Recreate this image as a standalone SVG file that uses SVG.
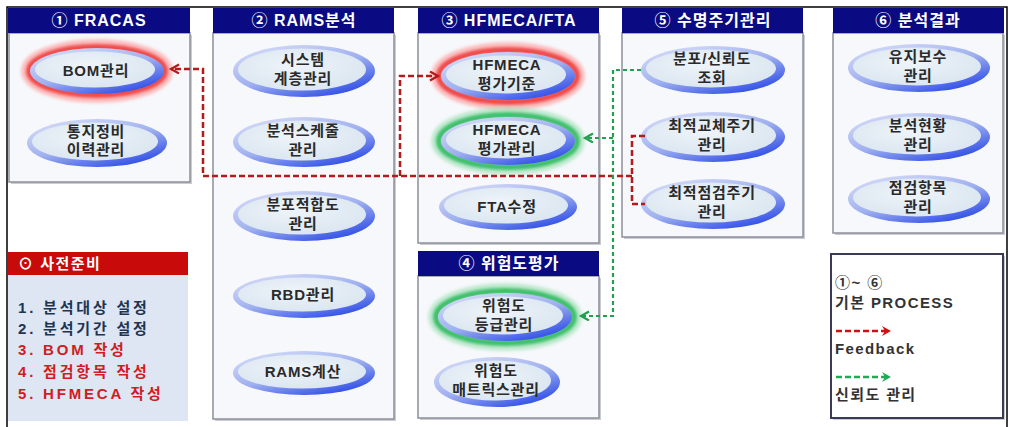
<svg xmlns="http://www.w3.org/2000/svg" width="1009" height="427" viewBox="0 0 1009 427">
<defs>
<linearGradient id="ringG" x1="0.15" y1="0" x2="0.85" y2="1">
<stop offset="0" stop-color="#d6dcf7"/>
<stop offset="0.5" stop-color="#9fb0f0"/>
<stop offset="1" stop-color="#2040e6"/>
</linearGradient>
<radialGradient id="fillG" cx="0.45" cy="0.4" r="0.7">
<stop offset="0" stop-color="#eef4f9"/>
<stop offset="1" stop-color="#d8e4ef"/>
</radialGradient>
<filter id="blur" x="-20%" y="-40%" width="140%" height="180%"><feGaussianBlur stdDeviation="1.4"/></filter>
<marker id="arR" markerUnits="userSpaceOnUse" markerWidth="12" markerHeight="12" refX="9" refY="5" orient="auto"><path d="M1,0.5 L9,5 L1,9.5" fill="none" stroke="#b31b1b" stroke-width="2.2"/></marker>
<marker id="arG" markerUnits="userSpaceOnUse" markerWidth="12" markerHeight="12" refX="9" refY="5" orient="auto"><path d="M1,0.5 L9,5 L1,9.5" fill="none" stroke="#23a04e" stroke-width="2.2"/></marker>
<marker id="lgR" markerUnits="userSpaceOnUse" markerWidth="12" markerHeight="12" refX="8" refY="5" orient="auto"><path d="M0,0 L9,5 L0,10 L3,5 Z" fill="#d01010"/></marker>
<marker id="lgG" markerUnits="userSpaceOnUse" markerWidth="12" markerHeight="12" refX="8" refY="5" orient="auto"><path d="M0,0 L9,5 L0,10 L3,5 Z" fill="#1faa55"/></marker>
</defs>
<style>
text{font-family:"Liberation Sans","Noto Sans CJK KR",sans-serif;font-weight:bold}
.hd{fill:#0a0a82}
.hdt{fill:#ffffff;font-size:16px;letter-spacing:1px;text-anchor:middle}
.body{fill:#f6f8fb;stroke:#8d909b;stroke-width:1.5}
.sh{fill:#c9ccd3}
.ro{fill:url(#ringG)}
.ri{fill:url(#fillG)}
.gR{fill:none;stroke:#f04848;stroke-width:6;filter:url(#blur)}
.gR2{fill:none;stroke:#ff9a9a;stroke-width:12;opacity:0.6;filter:url(#blur)}
.gG{fill:none;stroke:#3cbf6a;stroke-width:6;filter:url(#blur)}
.gG2{fill:none;stroke:#9fe0b4;stroke-width:12;opacity:0.6;filter:url(#blur)}
.lb{fill:#2a2a2a;font-size:15px;letter-spacing:0.8px;text-anchor:middle}
.red{fill:none;stroke:#b31b1b;stroke-width:2.5;stroke-dasharray:6 3}
.grn{fill:none;stroke:#23a04e;stroke-width:2.2;stroke-dasharray:4 3}
.pp{font-size:15px;letter-spacing:2.8px}
.lg{fill:#333333;font-size:15px;letter-spacing:1.4px}
</style>
<rect x="0" y="0" width="1009" height="427" fill="#ffffff"/>
<rect x="7" y="7" width="1000" height="440" fill="none" stroke="#000000" stroke-width="1.5"/>

<g id="box1">
<rect class="sh" x="11" y="35" width="181" height="149"/>
<rect class="body" x="9" y="33" width="181" height="149"/>
<rect class="hd" x="8" y="8" width="182" height="25"/>
<text class="hdt" x="99" y="26">① FRACAS</text>
</g>
<g id="box2">
<rect class="sh" x="215" y="35" width="181" height="386"/>
<rect class="body" x="213" y="33" width="181" height="386"/>
<rect class="hd" x="213" y="8" width="181" height="25"/>
<text class="hdt" x="304" y="26">② RAMS분석</text>
</g>
<g id="box3">
<rect class="sh" x="420" y="35" width="181" height="210"/>
<rect class="body" x="418" y="33" width="181" height="210"/>
<rect class="hd" x="418" y="8" width="181" height="25"/>
<text class="hdt" x="509" y="26">③ HFMECA/FTA</text>
</g>
<g id="box4">
<rect class="sh" x="420" y="278" width="181" height="142"/>
<rect class="body" x="418" y="276" width="181" height="142"/>
<rect class="hd" x="418" y="251" width="181" height="25"/>
<text class="hdt" x="509" y="269">④ 위험도평가</text>
</g>
<g id="box5">
<rect class="sh" x="624" y="35" width="181" height="204"/>
<rect class="body" x="622" y="33" width="181" height="204"/>
<rect class="hd" x="622" y="8" width="181" height="25"/>
<text class="hdt" x="713" y="26">⑤ 수명주기관리</text>
</g>
<g id="box6">
<rect class="sh" x="835" y="35" width="170" height="200"/>
<rect class="body" x="833" y="33" width="170" height="200"/>
<rect class="hd" x="833" y="8" width="171" height="25"/>
<text class="hdt" x="918" y="26">⑥ 분석결과</text>
</g>

<g id="prep">
<rect x="8" y="275" width="180" height="146" fill="#dde6f2"/>
<rect x="8" y="252" width="180" height="23" fill="#c80a0a"/>
<text x="18" y="269" fill="#ffffff" font-size="15px" letter-spacing="1.5px">⊙ 사전준비</text>
<text class="pp" x="18" y="313" fill="#1d3552">1. 분석대상 설정</text>
<text class="pp" x="18" y="334" fill="#1d3552">2. 분석기간 설정</text>
<text class="pp" x="18" y="355" fill="#d01c24">3. BOM 작성</text>
<text class="pp" x="18" y="377" fill="#d01c24">4. 점검항목 작성</text>
<text class="pp" x="18" y="399" fill="#d01c24">5. HFMECA 작성</text>
</g>

<g id="legend">
<rect x="833" y="256" width="172" height="164" fill="#c9ccd3"/>
<rect x="831" y="254" width="172" height="164" fill="#ffffff" stroke="#3a3a55" stroke-width="2"/>
<text class="lg" x="835" y="288" font-size="13px">①~ ⑥</text>
<text class="lg" x="835" y="308">기본 PROCESS</text>
<path d="M836,331 H890" fill="none" stroke="#d01010" stroke-width="2.5" stroke-dasharray="6 3" marker-end="url(#lgR)"/>
<text class="lg" x="835" y="354">Feedback</text>
<path d="M836,377 H890" fill="none" stroke="#1faa55" stroke-width="2.5" stroke-dasharray="6 3" marker-end="url(#lgG)"/>
<text class="lg" x="835" y="400">신뢰도 관리</text>
</g>

<g id="n-bom">
<ellipse class="gR2" cx="97" cy="71" rx="70" ry="26"/>
<ellipse class="gR" cx="97" cy="71" rx="68" ry="24"/>
<ellipse class="ro" cx="97" cy="71" rx="67" ry="23"/>
<ellipse class="ri" cx="95" cy="69.5" rx="60" ry="18"/>
<text class="lb" x="96" y="76">BOM관리</text>
</g>
<g id="n-notice">
<ellipse class="ro" cx="97" cy="143" rx="70" ry="24"/>
<ellipse class="ri" cx="95" cy="141.5" rx="63" ry="19"/>
<text class="lb" x="96" y="137">통지정비</text>
<text class="lb" x="96" y="155">이력관리</text>
</g>
<g id="n-sys">
<ellipse class="ro" cx="304" cy="71" rx="71" ry="26"/>
<ellipse class="ri" cx="302" cy="69.5" rx="64" ry="21"/>
<text class="lb" x="303" y="65">시스템</text>
<text class="lb" x="303" y="84">계층관리</text>
</g>
<g id="n-sched">
<ellipse class="ro" cx="304" cy="142" rx="71" ry="25"/>
<ellipse class="ri" cx="302" cy="140.5" rx="64" ry="20"/>
<text class="lb" x="303" y="136">분석스케줄</text>
<text class="lb" x="303" y="155">관리</text>
</g>
<g id="n-fit">
<ellipse class="ro" cx="304" cy="216" rx="71" ry="25"/>
<ellipse class="ri" cx="302" cy="214.5" rx="64" ry="20"/>
<text class="lb" x="303" y="210">분포적합도</text>
<text class="lb" x="303" y="229">관리</text>
</g>
<g id="n-rbd">
<ellipse class="ro" cx="304" cy="296" rx="71" ry="22"/>
<ellipse class="ri" cx="302" cy="294.5" rx="64" ry="17"/>
<text class="lb" x="303" y="300">RBD관리</text>
</g>
<g id="n-rams">
<ellipse class="ro" cx="304" cy="373" rx="71" ry="22"/>
<ellipse class="ri" cx="302" cy="371.5" rx="64" ry="17"/>
<text class="lb" x="303" y="377">RAMS계산</text>
</g>
<g id="n-hfstd">
<ellipse class="gR2" cx="508" cy="76" rx="71" ry="28"/>
<ellipse class="gR" cx="508" cy="76" rx="69" ry="26"/>
<ellipse class="ro" cx="508" cy="76" rx="67" ry="24"/>
<ellipse class="ri" cx="506" cy="74.5" rx="60" ry="19"/>
<text class="lb" x="507" y="70">HFMECA</text>
<text class="lb" x="507" y="89">평가기준</text>
</g>
<g id="n-hfmgr">
<ellipse class="gG2" cx="508" cy="141" rx="71" ry="28"/>
<ellipse class="gG" cx="508" cy="141" rx="69" ry="26"/>
<ellipse class="ro" cx="508" cy="141" rx="67" ry="24"/>
<ellipse class="ri" cx="506" cy="139.5" rx="60" ry="19"/>
<text class="lb" x="507" y="135">HFMECA</text>
<text class="lb" x="507" y="154">평가관리</text>
</g>
<g id="n-fta">
<ellipse class="ro" cx="508" cy="207" rx="69" ry="23"/>
<ellipse class="ri" cx="506" cy="205.5" rx="62" ry="18"/>
<text class="lb" x="507" y="212">FTA수정</text>
</g>
<g id="n-riskgrade">
<ellipse class="gG2" cx="505" cy="317" rx="71" ry="28"/>
<ellipse class="gG" cx="505" cy="317" rx="69" ry="26"/>
<ellipse class="ro" cx="505" cy="317" rx="67" ry="24"/>
<ellipse class="ri" cx="503" cy="315.5" rx="60" ry="19"/>
<text class="lb" x="504" y="311">위험도</text>
<text class="lb" x="504" y="330">등급관리</text>
</g>
<g id="n-riskmat">
<ellipse class="ro" cx="497" cy="382" rx="63" ry="25"/>
<ellipse class="ri" cx="495" cy="380.5" rx="56" ry="20"/>
<text class="lb" x="496" y="376">위험도</text>
<text class="lb" x="496" y="395">매트릭스관리</text>
</g>
<g id="n-dist">
<ellipse class="ro" cx="713" cy="70" rx="72" ry="24"/>
<ellipse class="ri" cx="711" cy="68.5" rx="65" ry="19"/>
<text class="lb" x="712" y="64">분포/신뢰도</text>
<text class="lb" x="712" y="83">조회</text>
</g>
<g id="n-repl">
<ellipse class="ro" cx="713" cy="137" rx="72" ry="25"/>
<ellipse class="ri" cx="711" cy="135.5" rx="65" ry="20"/>
<text class="lb" x="712" y="131">최적교체주기</text>
<text class="lb" x="712" y="150">관리</text>
</g>
<g id="n-insp">
<ellipse class="ro" cx="713" cy="204" rx="72" ry="25"/>
<ellipse class="ri" cx="711" cy="202.5" rx="65" ry="20"/>
<text class="lb" x="712" y="198">최적점검주기</text>
<text class="lb" x="712" y="217">관리</text>
</g>
<g id="n-maint">
<ellipse class="ro" cx="919" cy="68" rx="71" ry="24"/>
<ellipse class="ri" cx="917" cy="66.5" rx="64" ry="19"/>
<text class="lb" x="918" y="62">유지보수</text>
<text class="lb" x="918" y="81">관리</text>
</g>
<g id="n-status">
<ellipse class="ro" cx="919" cy="137" rx="71" ry="24"/>
<ellipse class="ri" cx="917" cy="135.5" rx="64" ry="19"/>
<text class="lb" x="918" y="131">분석현황</text>
<text class="lb" x="918" y="150">관리</text>
</g>
<g id="n-item">
<ellipse class="ro" cx="919" cy="199" rx="71" ry="24"/>
<ellipse class="ri" cx="917" cy="197.5" rx="64" ry="19"/>
<text class="lb" x="918" y="193">점검항목</text>
<text class="lb" x="918" y="212">관리</text>
</g>

<g id="connectors">
<path class="red" d="M645,136 H632 V204 H645"/>
<path class="red" d="M632,176 H203 V69 H171" marker-end="url(#arR)"/>
<path class="red" d="M400,176 V76 H438" marker-end="url(#arR)"/>
<path class="grn" d="M641,70 H613 V316 H581" marker-end="url(#arG)"/>
<path class="grn" d="M613,138 H585" marker-end="url(#arG)"/>
</g>
</svg>
